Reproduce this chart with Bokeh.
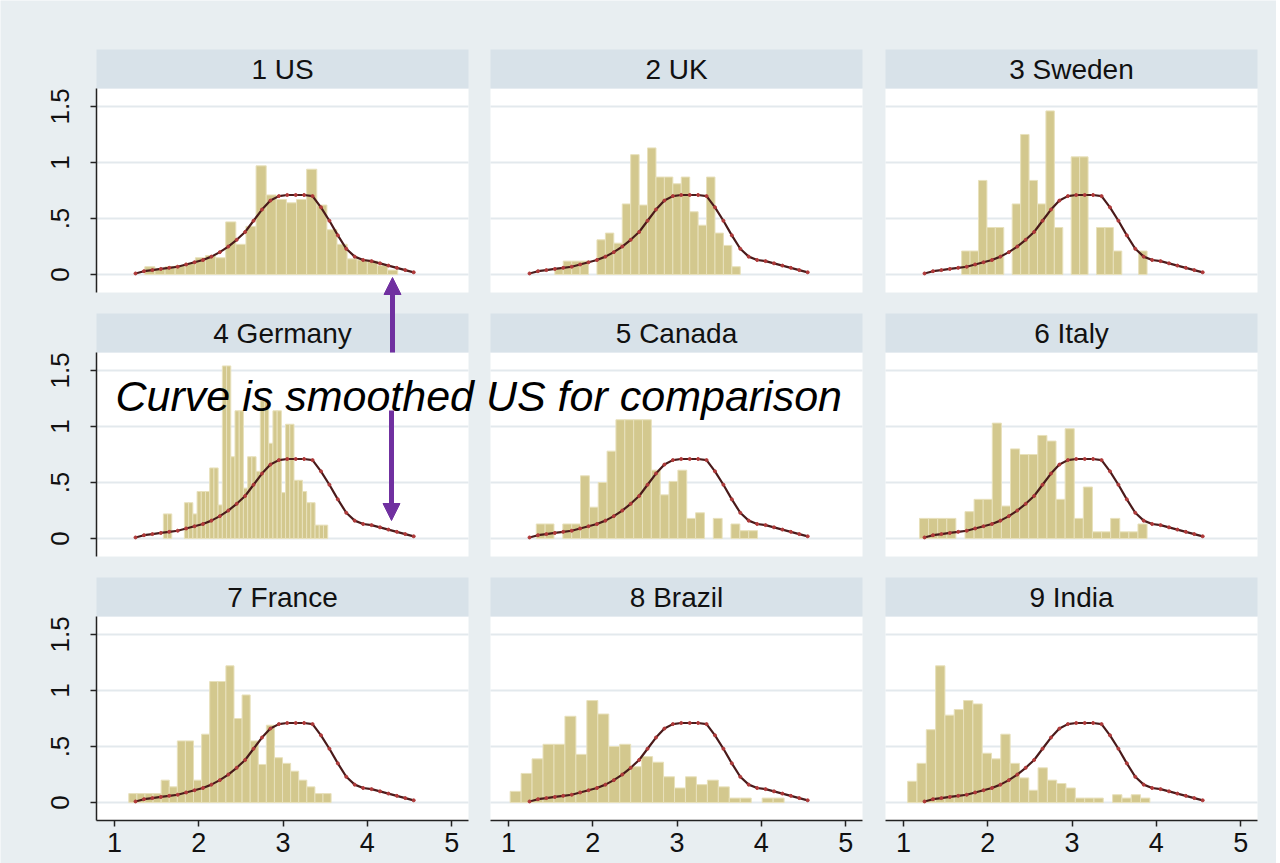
import numpy as np
from bokeh.plotting import figure
from bokeh.models import Range1d, LinearAxis, FixedTicker, Label, Arrow, NormalHead, ColumnDataSource
from bokeh.core.properties import value
from bokeh.embed import file_html
from bokeh.resources import INLINE

# ---------------- data ----------------
titles = ["1 US", "2 UK", "3 Sweden", "4 Germany", "5 Canada", "6 Italy",
          "7 France", "8 Brazil", "9 India"]

bin_start = [1.36, 1.45, 1.69, 1.58, 1.33, 1.19, 1.17, 1.02, 1.05]
bin_width = [0.12, 0.10, 0.10, 0.05, 0.105, 0.108, 0.096, 0.13, 0.1105]

us_density = [0.07, 0.05, 0.07, 0.08, 0.10, 0.15, 0.17, 0.15, 0.47, 0.27, 0.43, 0.97, 0.71,
              0.67, 0.64, 0.67, 0.94, 0.62, 0.40, 0.27, 0.14, 0.13, 0.12, 0.08, 0.04]
uk_density = [0, 0.05, 0.12, 0.12, 0.12, 0, 0.31, 0.37, 0.28, 0.63, 1.07, 0.62, 1.13, 0.87,
              0.87, 0.81, 0.87, 0.56, 0.44, 0.87, 0.37, 0.26, 0.07]
sweden_density = [0.21, 0.21, 0.84, 0.42, 0.42, 0, 0.63, 1.25, 0.84, 0.63, 1.46, 0.42, 0,
                  1.05, 1.05, 0, 0.42, 0.42, 0.21, 0, 0, 0.21]
germany_density = [0.22, 0.22, 0, 0, 0, 0.32, 0.32, 0.22, 0.42, 0.42, 0.42, 0.63, 0.63, 0.30,
                   1.54, 1.54, 0.73, 1.14, 1.14, 0.45, 0.73, 0.73, 0.60, 1.23, 1.23, 0.85,
                   1.14, 1.14, 0.41, 1.02, 1.02, 0.52, 0.52, 0.42, 0.32, 0.32, 0.12, 0.12, 0.12]
canada_density = [0.13, 0.13, 0, 0.13, 0.13, 0.56, 0.28, 0.50, 0.78, 1.06, 1.06, 1.06, 1.06,
                  0.61, 0.39, 0.51, 0.61, 0.18, 0.23, 0, 0.18, 0, 0.13, 0.07, 0.07]
italy_density = [0.18, 0.18, 0.18, 0.18, 0, 0.24, 0.35, 0.35, 1.03, 0.29, 0.80, 0.75, 0.75,
                 0.92, 0.87, 0.35, 0.98, 0.18, 0.46, 0.06, 0.06, 0.18, 0.06, 0.06, 0.13]
france_density = [0.08, 0.08, 0.08, 0.08, 0.20, 0.14, 0.55, 0.55, 0.20, 0.61, 1.08, 1.08, 1.22,
                  0.75, 0.96, 0.55, 0.34, 0.69, 0.40, 0.35, 0.28, 0.20, 0.14, 0.08, 0.08]
brazil_density = [0.10, 0.26, 0.39, 0.52, 0.52, 0.77, 0.43, 0.91, 0.79, 0.50, 0.52, 0.32, 0.41,
                  0.36, 0.23, 0.13, 0.23, 0.16, 0.20, 0.14, 0.04, 0.04, 0, 0.04, 0.04]
india_density = [0.19, 0.35, 0.65, 1.22, 0.78, 0.83, 0.91, 0.88, 0.44, 0.39, 0.61, 0.35, 0.22,
                 0.11, 0.31, 0.20, 0.17, 0.13, 0.04, 0.04, 0.04, 0, 0.07, 0.04, 0.07, 0.04]

densities = [us_density, uk_density, sweden_density, germany_density, canada_density,
             italy_density, france_density, brazil_density, india_density]

# smoothed US density (same curve drawn in every panel)
curve_x = [1.25, 1.35, 1.45, 1.55, 1.65, 1.75, 1.85, 1.95, 2.05, 2.15, 2.25, 2.35, 2.45, 2.55,
           2.65, 2.75, 2.85, 2.95, 3.05, 3.15, 3.25, 3.35, 3.45, 3.55, 3.65, 3.75, 3.85, 3.95,
           4.05, 4.15, 4.25, 4.35, 4.45, 4.55]
curve_y = [0.01, 0.03, 0.04, 0.05, 0.06, 0.07, 0.09, 0.11, 0.13, 0.16, 0.20, 0.25, 0.31, 0.38,
           0.48, 0.58, 0.66, 0.70, 0.71, 0.71, 0.71, 0.70, 0.60, 0.48, 0.35, 0.23, 0.16, 0.13,
           0.12, 0.10, 0.08, 0.06, 0.04, 0.02]

x_ticks = [1, 2, 3, 4, 5]
y_ticks = [0, 0.5, 1, 1.5]
y_tick_labels = {0: "0", 0.5: ".5", 1: "1", 1.5: "1.5"}

annotation = "Curve is smoothed US for comparison"

# ---------------- style / layout ----------------
BG = "#e8eef1"
STRIP_C = "#d8e2e9"
GRID_C = "#e3e9ed"
BAR_C = "#d3c88e"
BAR_LINE = "#e8e1bc"
CURVE_C = "#4a1a1a"
DOT_C = "#b03a3a"
PURPLE = "#7030a0"
FONT = "Liberation Sans"

FW, FH = 1276, 863
XA, XB = 0.787, 5.2
YA, YB = -0.16, 1.66
col_px = [(96, 468), (490, 862), (885, 1257)]
row_px = [(88, 292), (352, 556), (616, 820)]
STRIP = 39


def xrange_for(L, R):
    s = (XB - XA) / (R - L)
    return Range1d(XA - L * s, XB + (FW - R) * s)


def yrange_for(T, B):
    s = (YB - YA) / (B - T)
    return Range1d(YA - (FH - B) * s, YB + T * s)


def mx(px):
    return px


def my(py):
    return FH - py


p = figure(width=FW, height=FH, x_range=Range1d(0, FW), y_range=Range1d(0, FH),
           x_axis_location=None, y_axis_location=None, toolbar_location=None,
           output_backend="svg", min_border=0, background_fill_color=BG,
           border_fill_color=BG, outline_line_color=None)
p.grid.visible = False

p.extra_x_ranges = {f"x{c}": xrange_for(*col_px[c]) for c in range(3)}
p.extra_y_ranges = {f"y{r}": yrange_for(*row_px[r]) for r in range(3)}

for k in range(9):
    r, c = divmod(k, 3)
    xn, yn = f"x{c}", f"y{r}"
    T, B = row_px[r]
    sy = (YB - YA) / (B - T)
    kw = dict(x_range_name=xn, y_range_name=yn)

    # plot region and title strip
    p.quad(left=[XA], right=[XB], bottom=[YA], top=[YB], fill_color="white",
           line_color=None, **kw)
    p.quad(left=[XA], right=[XB], bottom=[YB], top=[YB + STRIP * sy], fill_color=STRIP_C,
           line_color=None, **kw)
    p.text(x=[(XA + XB) / 2], y=[YB + STRIP * sy / 2], text=[titles[k]],
           text_font=value(FONT), text_font_size="28px", text_color="#111111",
           text_align="center", text_baseline="middle", **kw)

    # horizontal grid lines
    p.segment(x0=[XA] * len(y_ticks), x1=[XB] * len(y_ticks), y0=y_ticks, y1=y_ticks,
              line_color=GRID_C, line_width=2, **kw)

    # histogram bars
    h = np.array(densities[k], dtype=float)
    left = bin_start[k] + bin_width[k] * np.arange(len(h))
    m = h > 0
    src = ColumnDataSource(dict(left=left[m], right=left[m] + bin_width[k],
                                top=h[m], bottom=np.zeros(m.sum())))
    p.quad(left="left", right="right", top="top", bottom="bottom", source=src,
           fill_color=BAR_C, line_color=BAR_LINE, line_width=1, **kw)

    # smoothed US curve
    p.line(curve_x, curve_y, line_color=CURVE_C, line_width=2.2, **kw)
    p.scatter(curve_x, curve_y, size=3, color=DOT_C, **kw)

axis_style = dict(axis_line_color="#222222", axis_line_width=1.5,
                  major_tick_line_color="#222222", major_tick_line_width=1.5,
                  major_tick_in=0, major_tick_out=6, minor_tick_line_color=None,
                  major_label_text_font=FONT, major_label_text_color="#111111")

for r in range(3):
    ax = LinearAxis(x_range_name="x0", y_range_name=f"y{r}", fixed_location=XA,
                    bounds=(YA, YB), ticker=FixedTicker(ticks=y_ticks),
                    major_label_overrides=y_tick_labels,
                    major_label_orientation="vertical", major_label_standoff=21,
                    major_label_text_font_size="26px", **axis_style)
    p.add_layout(ax, "left")

for c in range(3):
    ax = LinearAxis(x_range_name=f"x{c}", y_range_name="y2", fixed_location=YA,
                    bounds=(XA, XB), ticker=FixedTicker(ticks=x_ticks),
                    major_label_standoff=6, major_label_text_font_size="27px",
                    **axis_style)
    p.add_layout(ax, "below")

# annotation
p.add_layout(Label(x=mx(115), y=my(395), text=annotation, text_font=FONT,
                   text_font_style="italic", text_font_size="43px", text_color="#000000",
                   text_baseline="alphabetic"))
p.add_layout(Arrow(end=NormalHead(size=17, fill_color=PURPLE, line_color=PURPLE),
                   x_start=mx(392), y_start=my(352), x_end=mx(392), y_end=my(277),
                   line_color=PURPLE, line_width=5))
p.add_layout(Arrow(end=NormalHead(size=17, fill_color=PURPLE, line_color=PURPLE),
                   x_start=mx(391), y_start=my(410), x_end=mx(391), y_end=my(520),
                   line_color=PURPLE, line_width=5))

html = file_html(p, INLINE, title="Histograms by country")
html = html.replace("<body>", '<body style="background-color:%s;overflow:hidden;">' % BG, 1)
open("out.html", "w").write(html)
